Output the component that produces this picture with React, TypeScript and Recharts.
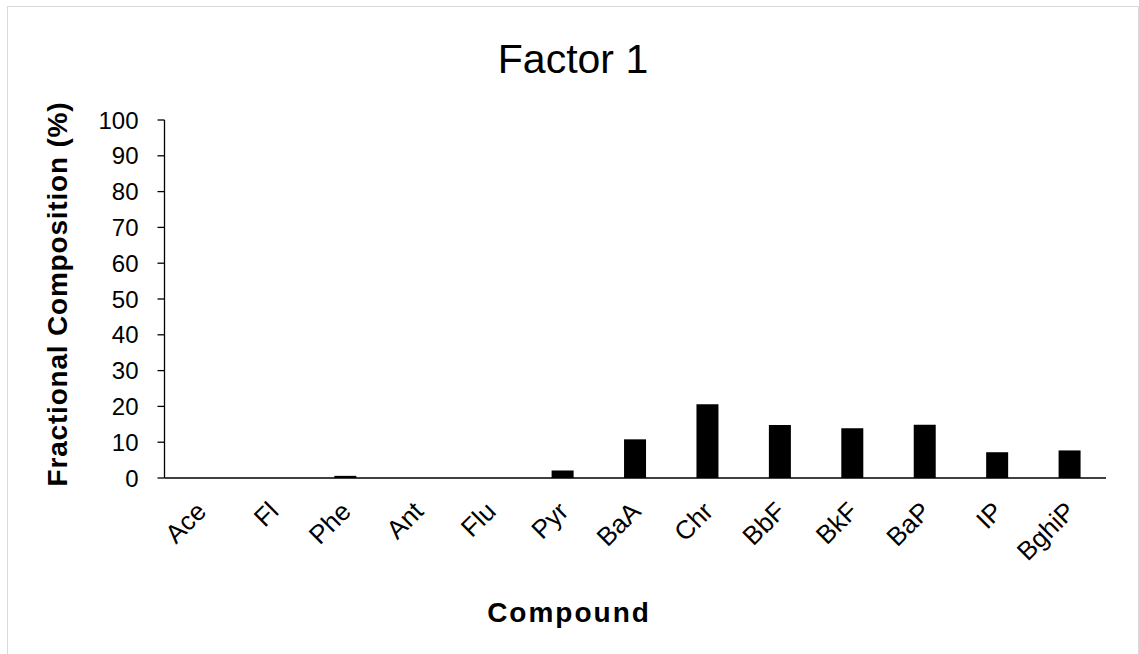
import React from 'react';
import { BarChart, Bar, XAxis, YAxis, Label } from 'recharts';

const compounds = ['Ace', 'Fl', 'Phe', 'Ant', 'Flu', 'Pyr', 'BaA', 'Chr', 'BbF', 'BkF', 'BaP', 'IP', 'BghiP'];
const fractions = [0, 0, 0.6, 0, 0, 2.1, 10.8, 20.6, 14.8, 13.9, 14.9, 7.2, 7.7];
const yTicks = [0, 10, 20, 30, 40, 50, 60, 70, 80, 90, 100];

const FONT = '"Liberation Sans", Arial, sans-serif';

const data = compounds.map((c, i) => ({ compound: c, value: fractions[i] }));

const XTick = ({ x, y, payload }: any) => {
  const tx = x + 7;
  const ty = y + 27;
  return (
    <text
      x={tx}
      y={ty}
      textAnchor="end"
      transform={`rotate(-45, ${tx}, ${ty})`}
      fontFamily={FONT}
      fontSize={26}
      fill="#000"
    >
      {payload.value}
    </text>
  );
};

const YLabel = () => (
  <text
    x={59}
    y={287}
    textAnchor="middle"
    transform="rotate(-90, 59, 287)"
    fontFamily={FONT}
    fontSize={28}
    fontWeight="bold"
    letterSpacing={0.8}
    fill="#000"
  >
    Fractional Composition (%)
  </text>
);

const XLabel = () => (
  <text
    x={561}
    y={615}
    textAnchor="middle"
    fontFamily={FONT}
    fontSize={28}
    fontWeight="bold"
    letterSpacing={2}
    fill="#000"
  >
    Compound
  </text>
);

export default function App() {
  return (
    <div
      style={{
        position: 'absolute',
        left: 7,
        top: 6,
        width: 1130,
        height: 647,
        borderTop: '1px solid #d9d9d9',
        borderLeft: '1px solid #d9d9d9',
        borderRight: '1px solid #d9d9d9',
        background: '#fff',
        overflow: 'hidden',
      }}
    >
      <div
        style={{
          position: 'absolute',
          left: 0,
          width: 1130,
          top: 28,
          textAlign: 'center',
          fontFamily: FONT,
          fontSize: 41,
          color: '#000',
          lineHeight: '48px',
        }}
      >
        Factor 1
      </div>
      <BarChart
        width={1130}
        height={647}
        data={data}
        margin={{ top: 113, right: 32, bottom: 0, left: 0 }}
      >
        <XAxis
          dataKey="compound"
          height={176}
          interval={0}
          tickLine={false}
          axisLine={{ stroke: '#000', strokeWidth: 1.5 }}
          tick={<XTick />}
        >
          <Label content={<XLabel />} />
        </XAxis>
        <YAxis
          width={156.5}
          domain={[0, 100]}
          ticks={yTicks}
          interval={0}
          tickSize={7}
          tickMargin={19}
          axisLine={{ stroke: '#000', strokeWidth: 1.3 }}
          tickLine={{ stroke: '#000', strokeWidth: 1.3 }}
          tick={{ fill: '#000', fontSize: 24, fontFamily: FONT }}
        >
          <Label content={<YLabel />} />
        </YAxis>
        <Bar dataKey="value" fill="#000" barSize={22} isAnimationActive={false} />
      </BarChart>
    </div>
  );
}
